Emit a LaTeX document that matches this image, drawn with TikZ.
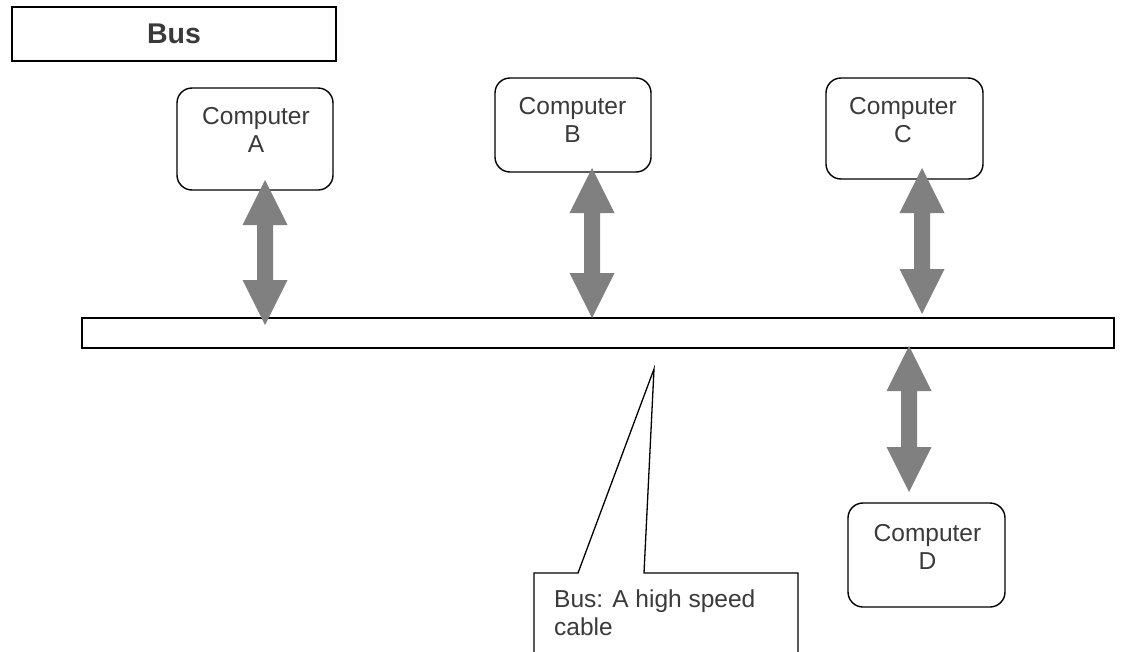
\documentclass[tikz,border=0pt]{standalone}
\usepackage{fontspec}
\setmainfont{Liberation Sans}
\usetikzlibrary{calc}
\definecolor{txt}{HTML}{3A3A3A}
\definecolor{arr}{HTML}{808080}
\newcommand\fatarrow[2]{%
  \fill[arr] (#1) -- ($(#1)+(22.5,45)$) -- ($(#1)+(8,45)$) -- ($(#2)+(8,-45)$)
    -- ($(#2)+(22.5,-45)$) -- (#2) -- ($(#2)+(-22.5,-45)$) -- ($(#2)+(-8,-45)$)
    -- ($(#1)+(-8,45)$) -- ($(#1)+(-22.5,45)$) -- cycle;}
\begin{document}
\begin{tikzpicture}[x=1pt,y=-1pt,
  comp/.style={draw, line width=1.4pt, rounded corners=15pt, inner sep=0pt},
  ctext/.style={text=txt, align=center, font=\fontsize{24.5}{28}\selectfont, inner sep=0pt, anchor=north},
  boxline/.style={draw, line width=1.8pt, inner sep=0pt}]
\clip (0,0) rectangle (1122,651);
\fill[white] (0,0) rectangle (1122,651);
% title
\node[boxline, minimum width=324pt, minimum height=54pt, text=txt,
  font=\fontsize{28.5}{32}\selectfont\bfseries] (title) at (174,33.7) {Bus};
% computers
\node[comp, minimum width=156pt, minimum height=102pt] (A) at (255,139) {};
\node[comp, minimum width=156pt, minimum height=94pt] (B) at (573,125) {};
\node[comp, minimum width=157pt, minimum height=101pt] (C) at (904.5,128.5) {};
\node[comp, minimum width=157pt, minimum height=104pt] (D) at (926.5,555) {};
\node[ctext] (At) at (256,107.2) {Computer\\A};
\node[ctext] (Bt) at (572.5,97.2) {Computer\\B};
\node[ctext] (Ct) at (903,97.2) {Computer\\C};
\node[ctext] (Dt) at (927.5,524.2) {Computer\\D};
% bus
\node[boxline, minimum width=1032pt, minimum height=30pt] (bus) at (598,333) {};
% callout
\draw[fill=white, line width=1.3pt, line join=miter] (534,670) -- (534,573) -- (578,573) -- (654,369)
  -- (644,573) -- (798,573) -- (798,670);
\node[anchor=north west, align=left, text=txt, font=\fontsize{24.5}{28}\selectfont, inner sep=0pt]
  (note) at (554,589.2) {Bus: A high speed\\cable};
% arrows
\coordinate (aT) at (265,180); \coordinate (aB) at (265,325);
\coordinate (bT) at (592,168); \coordinate (bB) at (592,318);
\coordinate (cT) at (922,168); \coordinate (cB) at (922,314);
\coordinate (dT) at (909,346); \coordinate (dB) at (909,492);
\fatarrow{aT}{aB}
\fatarrow{bT}{bB}
\fatarrow{cT}{cB}
\fatarrow{dT}{dB}
\end{tikzpicture}
\end{document}
